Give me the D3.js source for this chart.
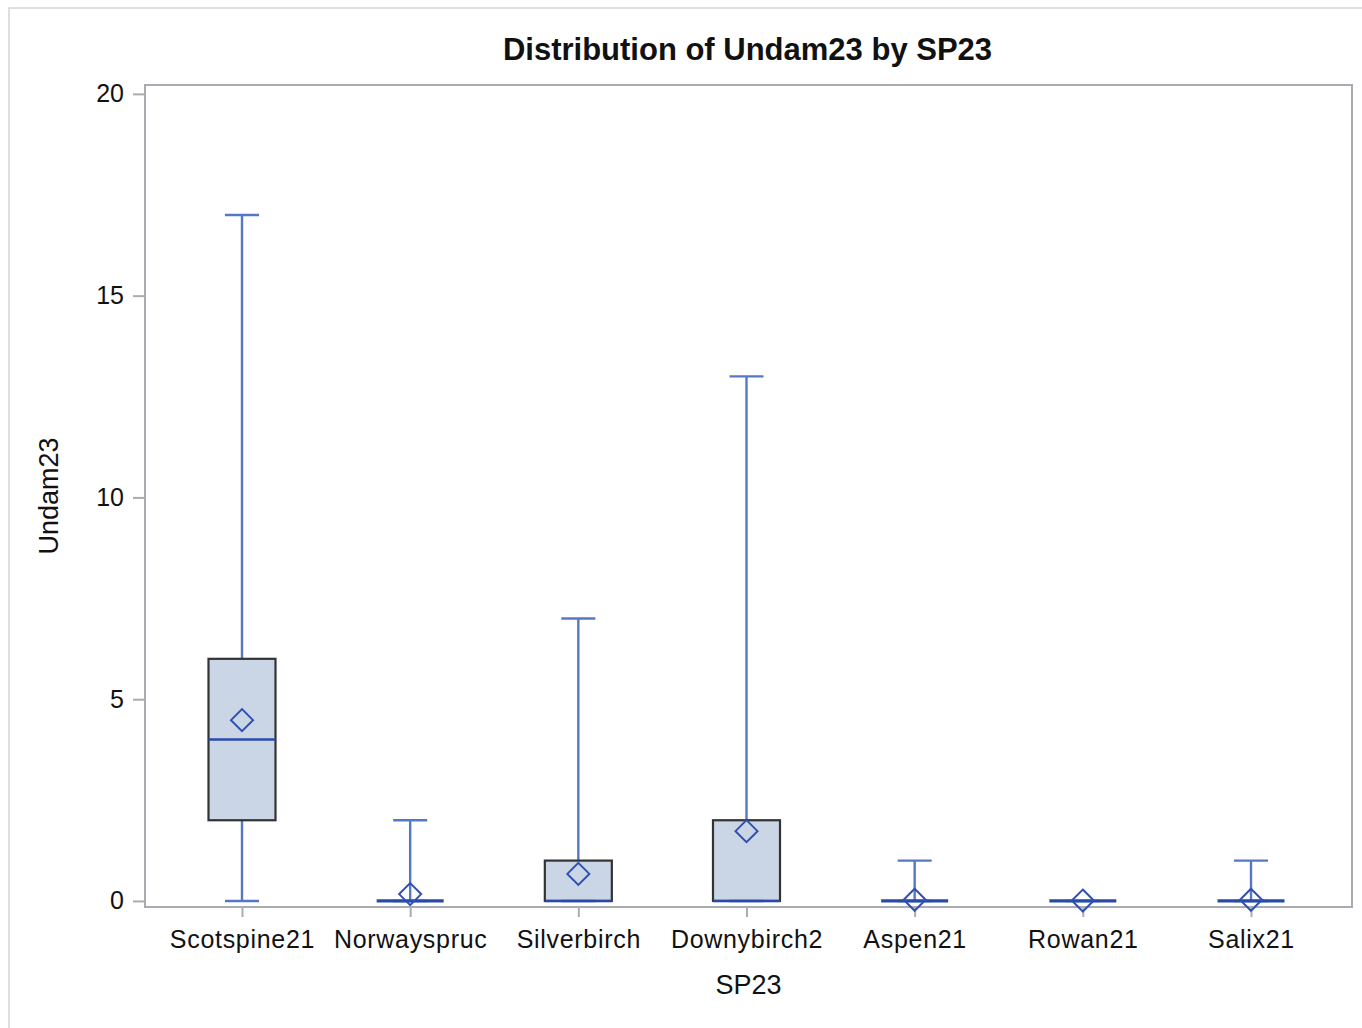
<!DOCTYPE html>
<html>
<head>
<meta charset="utf-8">
<script src="https://cdn.jsdelivr.net/npm/d3@7"></script>
<style>
  html, body { margin: 0; padding: 0; background: #fff; }
  svg { display: block; }
  text { font-family: "Liberation Sans", Arial, sans-serif; fill: #111; }
</style>
</head>
<body>
<svg id="chart" width="1362" height="1028"></svg>
<script>
// ---- data ----
const categories = ["Scotspine21", "Norwayspruc", "Silverbirch", "Downybirch2", "Aspen21", "Rowan21", "Salix21"];
const minValues    = [0, 0, 0, 0, 0, 0, 0];
const q1Values     = [2, 0, 0, 0, 0, 0, 0];
const medianValues = [4, 0, 0, 0, 0, 0, 0];
const q3Values     = [6, 0, 1, 2, 0, 0, 0];
const maxValues    = [17, 2, 7, 13, 1, 0, 1];
const meanValues   = [4.48, 0.17, 0.67, 1.73, 0.03, 0.01, 0.03];
const yTicks = [0, 5, 10, 15, 20];

// ---- layout ----
const W = 1362, H = 1028;
const plot = { left: 145, top: 85, right: 1352, bottom: 907 };
const boxW = 67, capW = 34, diamondR = 11;
const colWhisker = "#5578C6", colMedian = "#2A4AAA", colMean = "#2F50B0";
const colBox = "#CAD5E5", colBoxStroke = "#333333", colAxis = "#A9ADB1";

const svg = d3.select("#chart");

// outer frame
svg.append("rect").attr("x", 9).attr("y", 8).attr("width", W + 20).attr("height", H + 20)
  .attr("fill", "none").attr("stroke", "#D4D4D4").attr("stroke-width", 1.5);

const y = d3.scaleLinear().domain([-0.15, 20.22]).range([plot.bottom, plot.top]);
const x = d3.scalePoint().domain(categories).range([plot.left + 97, plot.right - 101]);

// title
svg.append("text").attr("x", (plot.left + plot.right) / 2 - 1).attr("y", 60)
  .attr("text-anchor", "middle").attr("font-size", 31).attr("font-weight", "bold")
  .text("Distribution of Undam23 by SP23");

// plot frame
svg.append("rect").attr("x", plot.left).attr("y", plot.top)
  .attr("width", plot.right - plot.left).attr("height", plot.bottom - plot.top)
  .attr("fill", "none").attr("stroke", colAxis).attr("stroke-width", 2);

// y axis
const yAxis = d3.axisLeft(y).tickValues(yTicks).tickSize(12).tickPadding(9).tickFormat(d3.format("d"));
const gy = svg.append("g").attr("transform", `translate(${plot.left},0)`).call(yAxis);
gy.select(".domain").remove();
gy.selectAll(".tick line").attr("stroke", colAxis).attr("stroke-width", 2);
gy.selectAll(".tick text").attr("font-size", 25).attr("font-family", "Liberation Sans, Arial, sans-serif").attr("fill", "#111");

// x axis
const xAxis = d3.axisBottom(x).tickSize(10).tickPadding(13);
const gx = svg.append("g").attr("transform", `translate(0,${plot.bottom})`).call(xAxis);
gx.select(".domain").remove();
gx.selectAll(".tick line").attr("stroke", colAxis).attr("stroke-width", 2);
gx.selectAll(".tick text").attr("font-size", 25).attr("letter-spacing", "0.7px")
  .attr("font-family", "Liberation Sans, Arial, sans-serif").attr("fill", "#111");

// axis labels
svg.append("text").attr("x", (plot.left + plot.right) / 2).attr("y", 994)
  .attr("text-anchor", "middle").attr("font-size", 27).text("SP23");
svg.append("text").attr("transform", `translate(58,${(plot.top + plot.bottom) / 2}) rotate(-90)`)
  .attr("text-anchor", "middle").attr("font-size", 27).text("Undam23");

// boxes
const stats = categories.map((c, i) => ({
  cat: c, min: minValues[i], q1: q1Values[i], med: medianValues[i],
  q3: q3Values[i], max: maxValues[i], mean: meanValues[i]
}));

const g = svg.append("g");
stats.forEach(s => {
  const cx = x(s.cat);
  // whiskers
  if (s.max > s.q3) {
    g.append("line").attr("x1", cx).attr("x2", cx).attr("y1", y(s.q3)).attr("y2", y(s.max))
      .attr("stroke", colWhisker).attr("stroke-width", 2.4);
    g.append("line").attr("x1", cx - capW / 2).attr("x2", cx + capW / 2).attr("y1", y(s.max)).attr("y2", y(s.max))
      .attr("stroke", colWhisker).attr("stroke-width", 2.4);
  }
  if (s.q1 > s.min) {
    g.append("line").attr("x1", cx).attr("x2", cx).attr("y1", y(s.min)).attr("y2", y(s.q1))
      .attr("stroke", colWhisker).attr("stroke-width", 2.4);
  }
  // box
  g.append("rect").attr("x", cx - boxW / 2).attr("y", y(s.q3))
    .attr("width", boxW).attr("height", Math.max(0, y(s.q1) - y(s.q3)))
    .attr("fill", colBox).attr("stroke", colBoxStroke).attr("stroke-width", 2.2);
  // lower cap
  g.append("line").attr("x1", cx - capW / 2).attr("x2", cx + capW / 2).attr("y1", y(s.min)).attr("y2", y(s.min))
    .attr("stroke", colWhisker).attr("stroke-width", 2.4);
  // median
  const collapsed = s.q3 === s.q1;
  g.append("line").attr("x1", cx - boxW / 2).attr("x2", cx + boxW / 2).attr("y1", y(s.med)).attr("y2", y(s.med))
    .attr("stroke", colMedian).attr("stroke-width", collapsed ? 3.2 : 2.4);
  // mean diamond
  const my = y(s.mean);
  g.append("path")
    .attr("d", `M${cx},${my - diamondR}L${cx + diamondR},${my}L${cx},${my + diamondR}L${cx - diamondR},${my}Z`)
    .attr("fill", "none").attr("stroke", colMean).attr("stroke-width", 2);
});
</script>
</body>
</html>
